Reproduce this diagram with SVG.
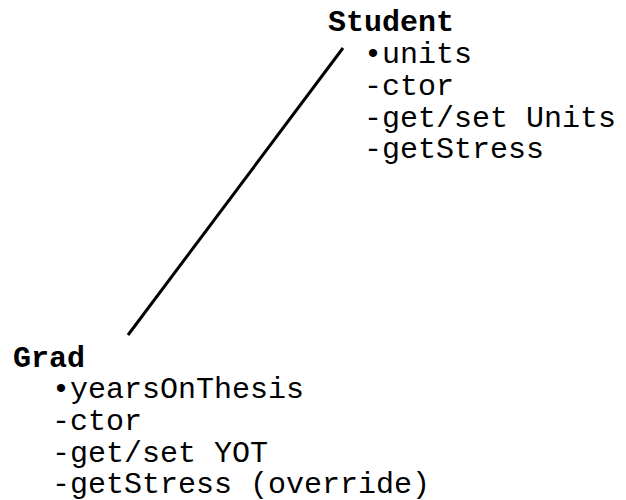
<svg xmlns="http://www.w3.org/2000/svg" width="626" height="500" viewBox="0 0 626 500">
<style>
text { font-family: "Liberation Mono", "Courier New", monospace; font-size: 30px; fill: #000; }
.title { font-weight: bold; }
</style>
<rect width="626" height="500" fill="#fff"/>
<g id="connectors">
<line x1="343" y1="48" x2="128" y2="335" stroke="#000" stroke-width="3"/>
</g>
<g id="student">
<text class="title" x="328" y="31">Student</text>
<text x="364" y="63">•units</text>
<text x="364" y="95">-ctor</text>
<text x="364" y="127">-get/set Units</text>
<text x="364" y="158">-getStress</text>
</g>
<g id="grad">
<text class="title" x="13" y="367">Grad</text>
<text x="52" y="398">•yearsOnThesis</text>
<text x="52" y="430">-ctor</text>
<text x="52" y="462">-get/set YOT</text>
<text x="52" y="493">-getStress (override)</text>
</g>
</svg>
